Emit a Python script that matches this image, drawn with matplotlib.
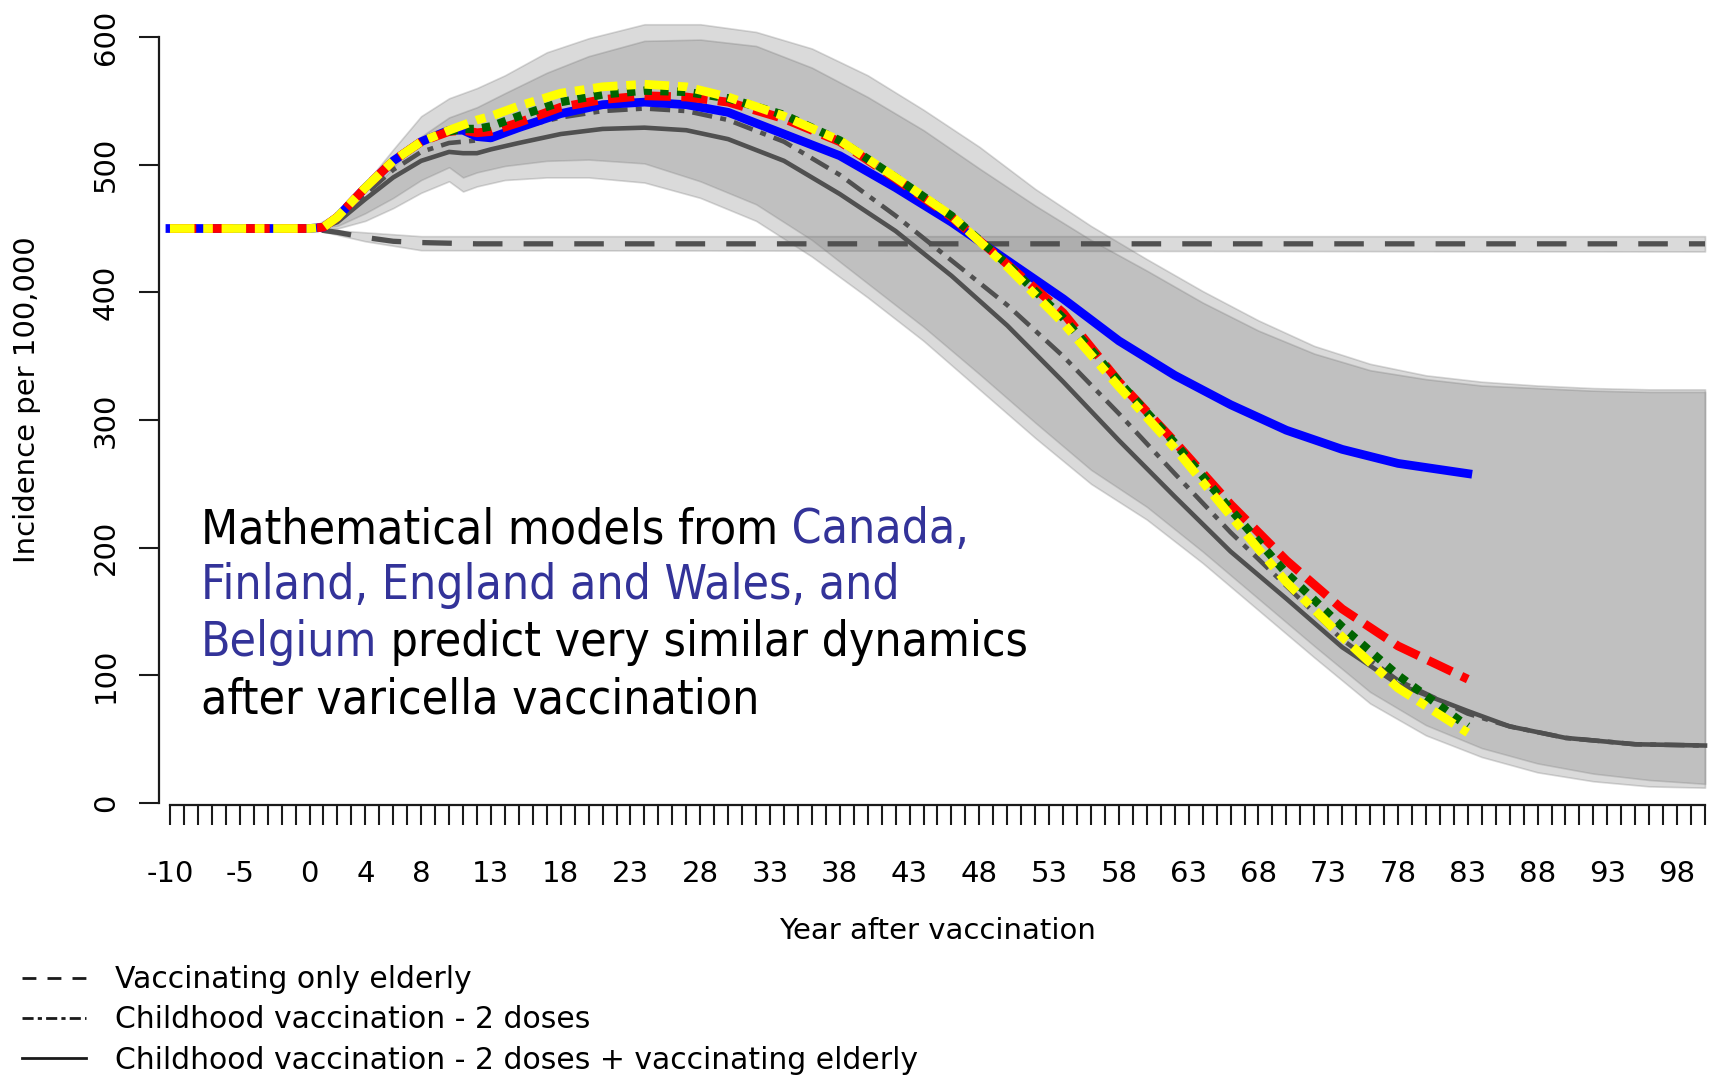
import matplotlib
matplotlib.use("Agg")
import matplotlib.pyplot as plt
from matplotlib.lines import Line2D

# ---------------- data ----------------
# four country models (coloured), years -10 .. 83
years = [-10, 0, 1, 2, 4, 6, 8, 10, 11, 12, 13, 15, 18, 21, 24, 27, 30,
         34, 38, 42, 46, 50, 54, 58, 62, 66, 70, 74, 78, 83]
model_blue = [450, 450, 451, 459, 482, 503, 518, 527, 527, 522, 521, 529, 540,
              547, 549, 547, 541, 524, 507, 482, 455, 425, 395, 362, 335, 312,
              292, 277, 266, 258]
model_red = [450, 450, 451, 459, 482, 503, 518, 526, 527, 525, 526, 533, 545,
             551, 554, 553, 549, 536, 518, 489, 459, 422, 384, 330, 283, 234,
             190, 152, 123, 97]
model_yellow = [450, 450, 451, 459, 482, 503, 518, 527, 531, 535, 538, 546, 556,
                561, 563, 561, 553, 538, 519, 490, 460, 420, 376, 326, 278, 225,
                173, 130, 90, 55]
green_years = [10, 11, 12, 13, 15, 18, 21, 24, 27, 30, 34, 38, 42, 46, 50, 54,
               58, 62, 66, 70, 74, 78, 83]
model_green = [526, 528, 528, 530, 538, 549, 555, 558, 557, 552, 539, 519, 490,
               460, 422, 380, 330, 282, 230, 180, 138, 100, 60]

# reference scenarios (grey), years -10 .. 100
gray_years = years + [86, 90, 95, 100]
child_2doses = [450, 450, 451, 457, 477, 496, 510, 517, 518, 519, 522, 529, 537,
                542, 544, 542, 535, 518, 492, 460, 425, 390, 350, 305, 258, 212,
                170, 128, 96, 70, 60, 51, 46, 45]
child_2doses_elderly = [450, 450, 451, 455, 473, 490, 503, 510, 509, 509, 512,
                        517, 524, 528, 529, 527, 520, 503, 477, 448, 413, 374,
                        330, 284, 240, 197, 160, 122, 93, 72, 60, 51, 46, 45]
elderly_years = [-10, 0, 2, 4, 6, 8, 12, 100]
elderly_only = [450, 450, 447, 443, 440, 439, 438, 438]

# uncertainty bands
band_years = [0, 2, 4, 6, 8, 10, 11, 12, 14, 17, 20, 24, 28, 32, 36, 40, 44,
              48, 52, 56, 60, 64, 68, 72, 76, 80, 84, 88, 92, 96, 100]
band_2doses_hi = [450, 462, 485, 512, 538, 552, 556, 560, 570, 588, 599, 610,
                  610, 604, 591, 570, 543, 514, 481, 452, 426, 401, 378, 358,
                  344, 335, 330, 327, 325, 324, 324]
band_2doses_lo = [450, 452, 462, 474, 488, 498, 490, 494, 499, 503, 504, 501,
                  487, 469, 441, 407, 373, 336, 298, 261, 232, 197, 160, 123,
                  87, 61, 43, 31, 23, 18, 15]
band_elderly2_hi = [450, 456, 474, 498, 522, 537, 541, 545, 556, 572, 585, 597,
                    598, 593, 576, 553, 527, 497, 468, 441, 417, 392, 370, 352,
                    339, 332, 327, 325, 323, 322, 322]
band_elderly2_lo = [450, 450, 456, 466, 478, 487, 479, 483, 488, 490, 490, 486,
                    474, 456, 428, 396, 362, 324, 286, 250, 222, 188, 151, 114,
                    78, 53, 36, 24, 17, 13, 12]
band_e_years = [0, 4, 8, 100]
band_elderly_hi = [450, 447, 444, 444]
band_elderly_lo = [450, 440, 433, 432]

xtick_labels = [-10, -5, 0, 4, 8, 13, 18, 23, 28, 33, 38, 43, 48, 53, 58, 63,
                68, 73, 78, 83, 88, 93, 98]
legend_labels = ["Vaccinating only elderly",
                 "Childhood vaccination - 2 doses",
                 "Childhood vaccination - 2 doses + vaccinating elderly"]
note_lines = [
    [("Mathematical models from", "black"), (" Canada,", "#333399")],
    [("Finland, England and Wales, and", "#333399")],
    [("Belgium", "#333399"), (" predict very similar dynamics", "black")],
    [("after varicella vaccination", "black")],
]

# ---------------- figure ----------------
W, H = 1717, 1076
fig = plt.figure(figsize=(W / 100, H / 100), dpi=100)
ax = fig.add_axes([158.8 / W, 1 - 804.9 / H, 1554.6 / W, 783.2 / H])
ax.set_xlim(-10.8, 100.6)
ax.set_ylim(-1.5, 612)

band_kw = dict(facecolor=(0.53, 0.53, 0.53, 0.3),
               edgecolor=(0.4, 0.4, 0.4, 0.25), lw=1.2)
ax.fill_between(band_years, band_2doses_lo, band_2doses_hi, **band_kw)
ax.fill_between(band_years, band_elderly2_lo, band_elderly2_hi, **band_kw)
ax.fill_between(band_e_years, band_elderly_lo, band_elderly_hi, **band_kw)

dark = "#505050"
ax.plot(elderly_years, elderly_only, color=dark, lw=3.8, ls=(0, (5.6, 4.0)))
ax.plot(gray_years, child_2doses_elderly, color=dark, lw=3.3)
ax.plot(gray_years, child_2doses, color=dark, lw=3.3,
        ls=(0, (4.4, 1.8, 1.3, 1.8)))

ax.plot(years, model_blue, color="#0000ff", lw=6.3)
ax.plot(years, model_red, color="#ff0000", lw=6.3, ls=(0, (3.0, 1.2)))
ax.plot(green_years, model_green, color="#006400", lw=6.0, ls=(0, (1.0, 1.0)))
ax.plot(years, model_yellow, color="#ffff00", lw=6.3,
        ls=(0, (2.8, 1.0, 1.1, 1.0)))

# axes in R style
for s in ("top", "right"):
    ax.spines[s].set_visible(False)
ax.spines["left"].set_bounds(0, 600)
ax.spines["bottom"].set_bounds(-10, 100)
for s in ("left", "bottom"):
    ax.spines[s].set_linewidth(1.6)
    ax.spines[s].set_color("#1a1a1a")

ax.set_xticks(range(-10, 101))
ax.set_xticklabels([str(t) if t in xtick_labels else "" for t in range(-10, 101)])
ax.set_yticks(range(0, 601, 100))
ax.set_yticklabels([str(t) for t in range(0, 601, 100)], rotation=90, va="center")
ax.tick_params(axis="x", length=14.5, width=1.5, pad=25, labelsize=21,
               color="#1a1a1a")
ax.tick_params(axis="y", length=14.5, width=1.5, pad=13.7, labelsize=21,
               color="#1a1a1a")

ax.set_xlabel("Year after vaccination", fontsize=21, va="center")
ax.xaxis.set_label_coords(0.501, -0.161)
ax.set_ylabel("Incidence per 100,000", fontsize=21, va="center")
ax.yaxis.set_label_coords(-0.0848, 0.517)

# legend below the plot
handles = [Line2D([], [], color="#1a1a1a", lw=2, ls=(0, (5, 4))),
           Line2D([], [], color="#1a1a1a", lw=2, ls=(0, (4, 1.5, 1.5, 1.5))),
           Line2D([], [], color="#1a1a1a", lw=2)]
fig.legend(handles, legend_labels, loc="upper left",
           bbox_to_anchor=(22 / W, 1 - 965 / H), frameon=False, fontsize=21.5,
           handlelength=2.15, handletextpad=0.98, labelspacing=0.38,
           borderpad=0, borderaxespad=0)

# annotation with coloured country names
note_kw = dict(fontsize=34.5, family="DejaVu Sans", fontstretch="condensed")
baselines = [543, 599, 656, 713]
for y_px, pieces in zip(baselines, note_lines):
    prev = None
    for s, c in pieces:
        if prev is None:
            prev = fig.text(201 / W, 1 - y_px / H, s, color=c, va="baseline",
                            **note_kw)
        else:
            prev = ax.annotate(s, xy=(1, 0), xycoords=prev, va="bottom",
                               color=c, **note_kw)

fig.savefig("out.png", dpi=100)
